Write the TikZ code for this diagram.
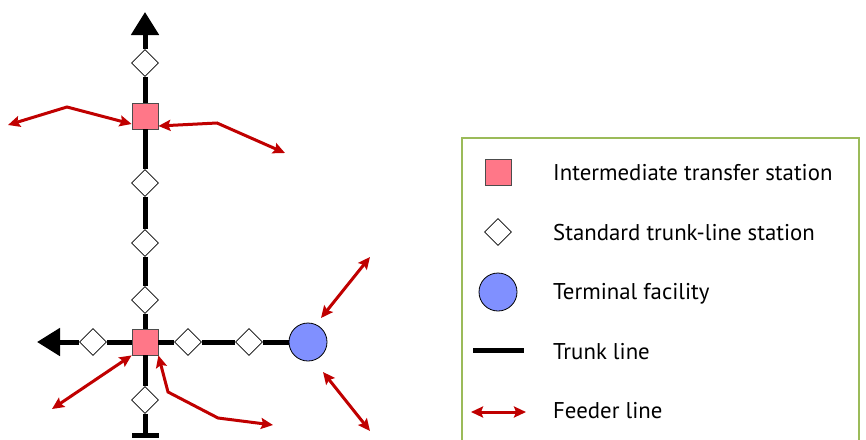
\documentclass[tikz,border=0pt]{standalone}
\usepackage{fontspec}
\setmainfont{PT Sans}
\usetikzlibrary{shapes.geometric,arrows.meta}
\definecolor{feedred}{HTML}{C00000}
\definecolor{sqpink}{HTML}{FF7788}
\definecolor{termblue}{HTML}{8090FF}
\definecolor{boxgreen}{HTML}{9BBB59}
\tikzset{
  xsq/.style={draw=black!70, line width=0.8pt, fill=sqpink, minimum size=26pt, inner sep=0pt, shape=rectangle},
  stdst/.style={draw=black, line width=0.6pt, fill=white, shape=diamond, minimum size=27pt, inner sep=0pt},
  termf/.style={draw=black, line width=0.8pt, fill=termblue, shape=circle, minimum size=38pt, inner sep=0pt},
  trunk/.style={line width=5pt, black},
  feeder/.style={line width=3pt, feedred, {Stealth[length=12pt,width=11pt,inset=2pt]}-{Stealth[length=12pt,width=11pt,inset=2pt]}},
  legtext/.style={anchor=base west, font=\fontsize{22.8}{27}\selectfont, inner sep=0pt}
}
\begin{document}
\begin{tikzpicture}[x=1pt,y=-1pt]
\useasboundingbox (0,0) rectangle (866,439);
% legend box
\draw[boxgreen, line width=1.2pt] (462,447) |- (859,138) -- (859,447);
% nodes
\node[stdst] (d0) at (145,63) {};
\node[xsq] (sqU) at (145,116) {};
\node[stdst] (d1) at (145,183) {};
\node[stdst] (d2) at (145,243) {};
\node[stdst] (d3) at (145,300) {};
\node[xsq] (sqX) at (145,342) {};
\node[stdst] (d4) at (145,400) {};
\node[stdst] (dL) at (93,342) {};
\node[stdst] (dR1) at (188,342) {};
\node[stdst] (dR2) at (249,342) {};
\node[termf] (term) at (308,342) {};
\coordinate (toptip) at (145,12);
\coordinate (bottomend) at (145,438);
\coordinate (lefttip) at (37,342);
% trunk lines
\draw[trunk, -{Triangle[length=23pt,width=27pt]}] (d0) -- (toptip);
\draw[trunk] (sqU) -- (d0);
\draw[trunk] (sqU) -- (d1);
\draw[trunk] (d1) -- (d2);
\draw[trunk] (d2) -- (d3);
\draw[trunk] (d3) -- (sqX);
\draw[trunk] (sqX) -- (d4);
\draw[trunk, -{Bar[width=27pt]}] (d4) -- (bottomend);
\draw[trunk, -{Triangle[length=23pt,width=27pt]}] (dL) -- (lefttip);
\draw[trunk] (sqX) -- (dL);
\draw[trunk] (sqX) -- (dR1);
\draw[trunk] (dR1) -- (dR2);
\draw[trunk] (dR2) -- (term);
% feeder lines
\coordinate (f1) at (8,125);
\coordinate (f2) at (285,153);
\coordinate (f3) at (52,409);
\coordinate (f4) at (273,425);
\coordinate (f5) at (370,257);
\coordinate (f6) at (321,318);
\coordinate (f7) at (323,372);
\coordinate (f8) at (370,431);
\draw[feeder] (f1) -- (67,107) -- (sqU.west |- 0,124);
\draw[feeder] (sqU.east |- 0,126) -- (217,123) -- (f2);
\draw[feeder] (f3) -- (sqX.south west);
\draw[feeder] (sqX.south east) -- (168,392) -- (218,418) -- (f4);
\draw[feeder] (f6) -- (f5);
\draw[feeder] (f7) -- (f8);
% legend
\node[xsq] (lsq) at (498,172) {};
\node[stdst] (ldia) at (498,232) {};
\node[termf] (lterm) at (498,292) {};
\coordinate (ltA) at (473,350);
\coordinate (ltB) at (524,350);
\draw[trunk] (ltA) -- (ltB);
\coordinate (lfA) at (471,412);
\coordinate (lfB) at (526,412);
\draw[feeder] (lfA) -- (lfB);
\node[legtext] (t1) at (553,180) {Intermediate transfer station};
\node[legtext] (t2) at (553,240) {Standard trunk-line station};
\node[legtext] (t3) at (553,299) {Terminal facility};
\node[legtext] (t4) at (553,359) {Trunk line};
\node[legtext] (t5) at (553,418) {Feeder line};
\end{tikzpicture}
\end{document}
